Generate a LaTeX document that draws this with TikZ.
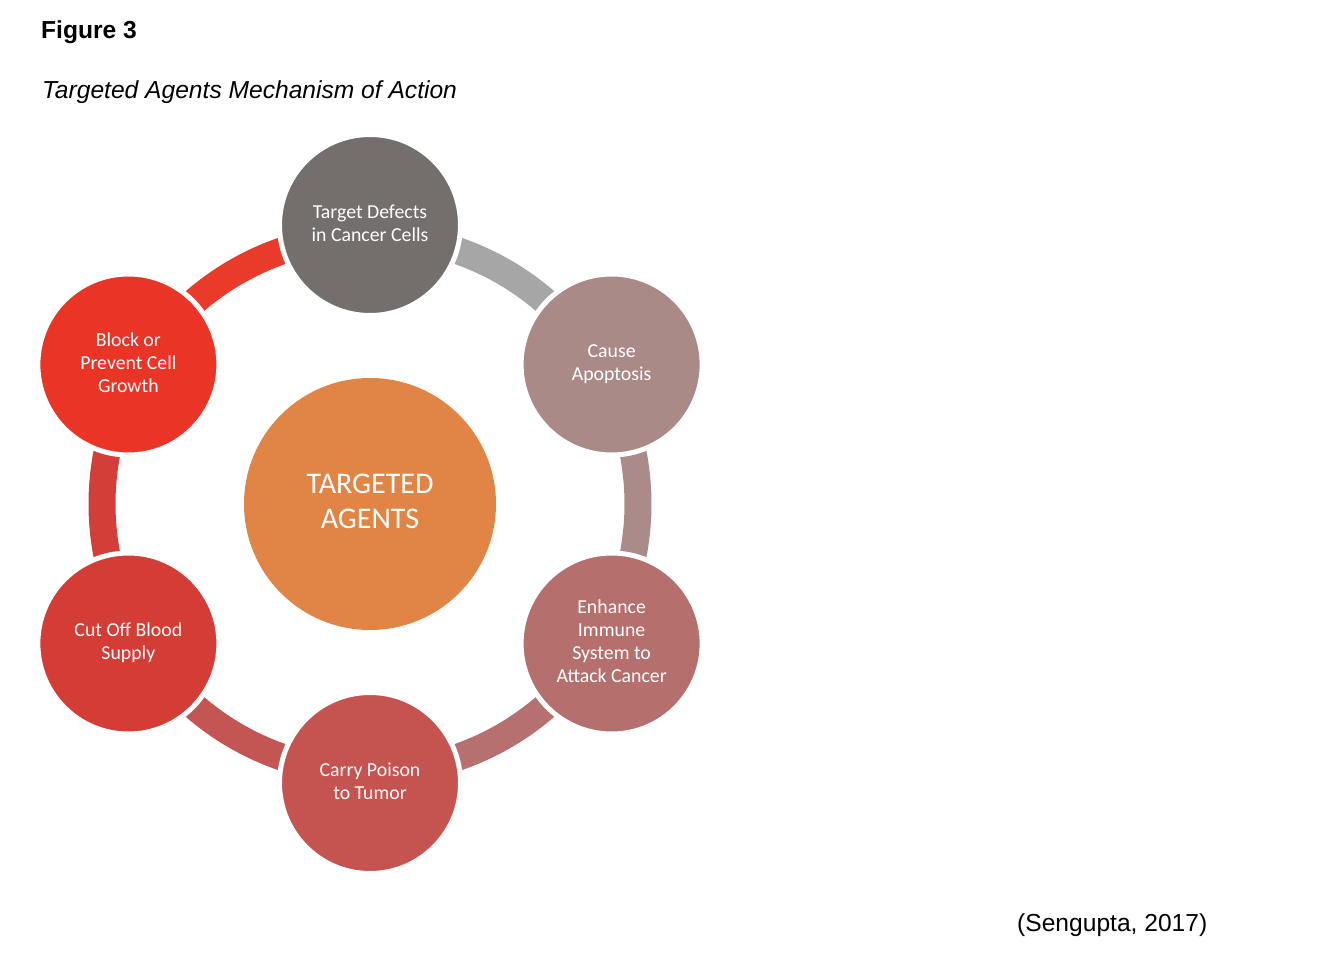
\documentclass[tikz,border=0pt]{standalone}
\usepackage{fontspec}
\setmainfont{Liberation Sans}
\newfontfamily\carlito{Carlito}
\definecolor{cTop}{HTML}{746F6D}
\definecolor{cUR}{HTML}{AA8A87}
\definecolor{cLR}{HTML}{B5706E}
\definecolor{cBot}{HTML}{C55451}
\definecolor{cLL}{HTML}{D43C36}
\definecolor{cUL}{HTML}{EA3425}
\definecolor{cCen}{HTML}{E08545}
\definecolor{aTR}{HTML}{A6A6A6}
\definecolor{aR}{HTML}{AB8B89}
\definecolor{aBR}{HTML}{B5706F}
\definecolor{aBL}{HTML}{C35653}
\definecolor{aL}{HTML}{D33E38}
\definecolor{aTL}{HTML}{E93A2A}
\newcommand\circtext[2]{\raisebox{#1}{\begin{tabular}{@{}c@{}}#2\end{tabular}}}
\begin{document}
\begin{tikzpicture}[x=1pt,y=1pt,
  ringarc/.style={line width=27pt},
  outer/.style={circle, draw=white, line width=5pt, minimum size=181pt, inner sep=0pt,
    text=white, font=\carlito\fontsize{19.8}{23}\selectfont},
  capt/.style={anchor=base west, inner sep=0pt, font=\fontsize{24.6}{29}\selectfont}]
\useasboundingbox (-370,-460) rectangle (952,504);
% ring arcs
\draw[ringarc, aTR] (90:268) arc[start angle=90, end angle=30, radius=268];
\draw[ringarc, aR] (30:268) arc[start angle=30, end angle=-30, radius=268];
\draw[ringarc, aBR] (-30:268) arc[start angle=-30, end angle=-90, radius=268];
\draw[ringarc, aBL] (-90:268) arc[start angle=-90, end angle=-150, radius=268];
\draw[ringarc, aL] (-150:268) arc[start angle=-150, end angle=-210, radius=268];
\draw[ringarc, aTL] (150:268) arc[start angle=150, end angle=90, radius=268];
% center
\node[circle, fill=cCen, minimum size=252pt, inner sep=0pt, text=white,
  font=\carlito\fontsize{30}{35}\selectfont] (c) at (0,0) {\circtext{4pt}{TARGETED\\AGENTS}};
% outer circles
\node[outer, fill=cTop] (t) at (90:279) {\circtext{2.5pt}{Target Defects\\in Cancer Cells}};
\node[outer, fill=cUR] (ur) at (30:279) {\circtext{2.5pt}{Cause\\Apoptosis}};
\node[outer, fill=cLR] (lr) at (-30:279) {\circtext{2.5pt}{Enhance\\Immune\\System to\\Attack Cancer}};
\node[outer, fill=cBot] (b) at (-90:279) {\circtext{2.5pt}{Carry Poison\\to Tumor}};
\node[outer, fill=cLL] (ll) at (-150:279) {\circtext{2.5pt}{Cut Off Blood\\Supply}};
\node[outer, fill=cUL] (ul) at (150:279) {\circtext{2.5pt}{Block or\\Prevent Cell\\Growth}};
% captions
\node[capt, font=\bfseries\fontsize{24.6}{29}\selectfont] (fig) at (-329,465.5) {Figure 3};
\node[capt, font=\itshape\fontsize{24.6}{29}\selectfont] (sub) at (-328,405.5) {Targeted Agents Mechanism of Action};
\node[capt] (src) at (647,-427) {(Sengupta, 2017)};
\end{tikzpicture}
\end{document}
